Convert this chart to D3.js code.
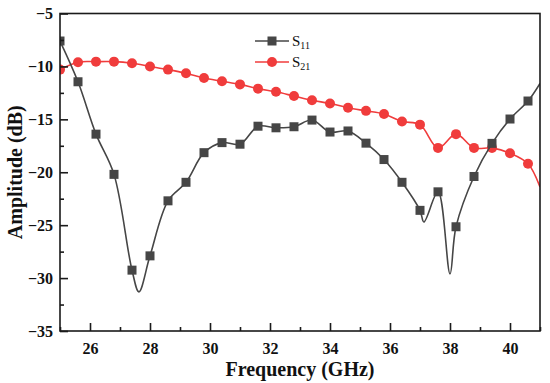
<!DOCTYPE html>
<html>
<head>
<meta charset="utf-8">
<script src="https://cdn.jsdelivr.net/npm/d3@7"></script>
<style>
  body { margin: 0; background: #fff; }
  svg { display: block; }
  text { font-family: "Liberation Serif", "Times New Roman", serif; }
</style>
</head>
<body>
<svg id="chart" width="550" height="383"></svg>
<script>
/* ---- data ---- */
var freq = [25.0, 25.6, 26.2, 26.8, 27.4, 28.0, 28.6, 29.2, 29.8, 30.4, 31.0, 31.6, 32.2, 32.8,
            33.4, 34.0, 34.6, 35.2, 35.8, 36.4, 37.0, 37.6, 38.2, 38.8, 39.4, 40.0, 40.6]
var s11 = [-7.6, -11.45, -16.4, -20.2, -29.25, -27.9, -22.7, -20.95, -18.15, -17.2, -17.35, -15.65, -15.8, -15.7,
           -15.07, -16.2, -16.1, -17.25, -18.8, -20.95, -23.6, -21.85, -25.15, -20.4, -17.27, -14.97, -13.27]
var s21 = [-10.3, -9.6, -9.55, -9.55, -9.7, -10.0, -10.3, -10.65, -11.1, -11.4, -11.7, -12.1, -12.4, -12.8,
           -13.2, -13.5, -13.9, -14.2, -14.5, -15.2, -15.5, -17.7, -16.4, -17.7, -17.7, -18.2, -19.2]
// curve points between the markers (dips and the right edge)
var s11ExtraFreq = [27.63, 37.13, 38.0, 41.0]
var s11ExtraVal = [-31.3, -24.7, -29.6, -11.6]
var s21ExtraFreq = [41.0]
var s21ExtraVal = [-21.4]

var xTicks = [26, 28, 30, 32, 34, 36, 38, 40]
var xMinorTicks = [25, 27, 29, 31, 33, 35, 37, 39, 41]
var yTicks = [-5, -10, -15, -20, -25, -30, -35]
var yMinorTicks = [-7.5, -12.5, -17.5, -22.5, -27.5, -32.5]
var seriesNames = ["11", "21"]

/* ---- layout ---- */
var plotLeft = 60, plotRight = 540, plotTop = 13.5, plotBottom = 331

var x = d3.scaleLinear().domain([25, 41]).range([plotLeft, plotRight])
var y = d3.scaleLinear().domain([-35, -5]).range([plotBottom, plotTop])

var svg = d3.select("#chart")

function pts(fs, vs) {
    return fs.map(function (f, i) { return [f, vs[i]] })
}
function merged(fs, vs, efs, evs) {
    return pts(fs, vs).concat(pts(efs, evs)).sort(function (a, b) { return a[0] - b[0] })
}

var line = d3.line()
    .x(function (d) { return x(d[0]) })
    .y(function (d) { return y(d[1]) })
    .curve(d3.curveCatmullRom.alpha(0.5))

var grey = "#464646"
var red = "#f03c3c"

svg.append("defs").append("clipPath").attr("id", "clip")
    .append("rect").attr("x", plotLeft).attr("y", plotTop)
    .attr("width", plotRight - plotLeft).attr("height", plotBottom - plotTop)

var curves = svg.append("g").attr("clip-path", "url(#clip)")

/* S21 */
curves.append("path")
    .datum(merged(freq, s21, s21ExtraFreq, s21ExtraVal))
    .attr("d", line)
    .attr("fill", "none")
    .attr("stroke", red)
    .attr("stroke-width", 1.6)

curves.selectAll("circle.s21")
    .data(pts(freq, s21))
    .enter()
    .append("circle")
    .attr("class", "s21")
    .attr("cx", function (d) { return x(d[0]) })
    .attr("cy", function (d) { return y(d[1]) })
    .attr("r", 5)
    .attr("fill", red)

/* S11 */
curves.append("path")
    .datum(merged(freq, s11, s11ExtraFreq, s11ExtraVal))
    .attr("d", line)
    .attr("fill", "none")
    .attr("stroke", grey)
    .attr("stroke-width", 1.6)

curves.selectAll("rect.s11")
    .data(pts(freq, s11))
    .enter()
    .append("rect")
    .attr("class", "s11")
    .attr("x", function (d) { return x(d[0]) - 4.5 })
    .attr("y", function (d) { return y(d[1]) - 4.5 })
    .attr("width", 9)
    .attr("height", 9)
    .attr("fill", grey)

/* frame */
svg.append("rect")
    .attr("x", plotLeft).attr("y", plotTop)
    .attr("width", plotRight - plotLeft).attr("height", plotBottom - plotTop)
    .attr("fill", "none")
    .attr("stroke", "#1a1a1a")
    .attr("stroke-width", 1.6)

/* axes: ticks point inward */
var xAxis = d3.axisBottom(x).tickValues(xTicks).tickSizeInner(-8).tickSizeOuter(0).tickPadding(12)
var xMinor = d3.axisBottom(x).tickValues(xMinorTicks).tickSizeInner(-4).tickSizeOuter(0).tickFormat("")
var yAxis = d3.axisLeft(y).tickValues(yTicks).tickSizeInner(-8).tickSizeOuter(0).tickPadding(7)
var yMinor = d3.axisLeft(y).tickValues(yMinorTicks).tickSizeInner(-4).tickSizeOuter(0).tickFormat("")

function styleAxis(g) {
    g.select(".domain").remove()
    g.selectAll("line").attr("stroke", "#1a1a1a").attr("stroke-width", 1.6)
    g.selectAll("text")
        .attr("font-family", "Liberation Serif, Times New Roman, serif")
        .attr("font-weight", "bold")
        .attr("font-size", 16)
        .attr("fill", "#111")
}

svg.append("g").attr("transform", "translate(0," + plotBottom + ")").call(xAxis).call(styleAxis)
svg.append("g").attr("transform", "translate(0," + plotBottom + ")").call(xMinor).call(styleAxis)
svg.append("g").attr("transform", "translate(" + plotLeft + ",0)").call(yAxis).call(styleAxis)
svg.append("g").attr("transform", "translate(" + plotLeft + ",0)").call(yMinor).call(styleAxis)

/* axis titles */
svg.append("text")
    .attr("x", (plotLeft + plotRight) / 2)
    .attr("y", 376)
    .attr("text-anchor", "middle")
    .attr("font-weight", "bold")
    .attr("font-size", 20)
    .attr("fill", "#111")
    .text("Frequency (GHz)")

svg.append("text")
    .attr("transform", "translate(22," + ((plotTop + plotBottom) / 2) + ") rotate(-90)")
    .attr("text-anchor", "middle")
    .attr("font-weight", "bold")
    .attr("font-size", 20)
    .attr("fill", "#111")
    .text("Amplitude (dB)")

/* legend */
var legend = svg.append("g").attr("transform", "translate(255,41)")
var legendRows = legend.selectAll("g")
    .data(seriesNames)
    .enter()
    .append("g")
    .attr("transform", function (d, i) { return "translate(0," + (i * 21) + ")" })

legendRows.append("line")
    .attr("x1", 0).attr("x2", 34).attr("y1", 0).attr("y2", 0)
    .attr("stroke", function (d, i) { return i == 0 ? grey : red })
    .attr("stroke-width", 1.6)

legendRows.each(function (d, i) {
    var g = d3.select(this)
    if (i == 0) {
        g.append("rect").attr("x", 12.5).attr("y", -4.5).attr("width", 9).attr("height", 9).attr("fill", grey)
    } else {
        g.append("circle").attr("cx", 17).attr("cy", 0).attr("r", 5).attr("fill", red)
    }
})

var legendText = legendRows.append("text")
    .attr("x", 37)
    .attr("y", 5)
    .attr("font-size", 15)
    .attr("fill", "#111")
legendText.append("tspan").text("S")
legendText.append("tspan").attr("font-size", 10).attr("dy", 3).text(function (d) { return d })
</script>
</body>
</html>
